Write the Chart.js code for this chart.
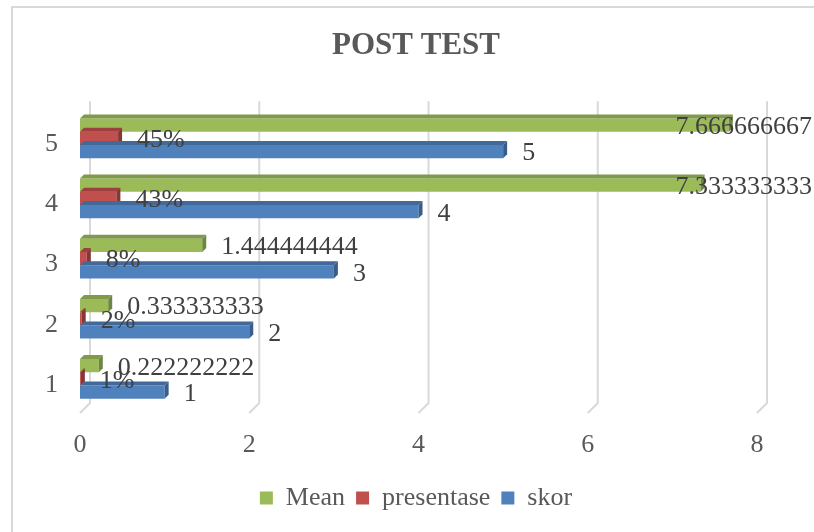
<!DOCTYPE html>
<html>
<head>
<meta charset="utf-8">
<script src="https://cdn.jsdelivr.net/npm/chart.js@4"></script>
<style>
  html, body { margin: 0; padding: 0; background: #fff; }
  #wrap { width: 814px; height: 532px; }
</style>
</head>
<body>
<div id="wrap"><canvas id="myChart" width="814" height="532"></canvas></div>
<script>
const categories = ["1", "2", "3", "4", "5"];
const meanValues = [0.222222222, 0.333333333, 1.444444444, 7.333333333, 7.666666667];
const presentaseValues = [0.01, 0.02, 0.08, 0.43, 0.45];
const skorValues = [1, 2, 3, 4, 5];
const xTicks = [0, 2, 4, 6, 8];

const SERIF = "'Liberation Serif', 'Times New Roman', serif";

// front colour, top face, side face
const shades = [
  ["#9BBB59", "#7f9a48", "#6e8740"],
  ["#C0504D", "#9c413f", "#863634"],
  ["#4F81BD", "#41699a", "#385d8a"],
];

const formatters = [
  (v) => String(v),
  (v) => Math.round(v * 100) + "%",
  (v) => String(v),
];

// outer frame of the chart
const framePlugin = {
  id: "frame",
  beforeDraw(chart) {
    const c = chart.ctx;
    c.save();
    c.fillStyle = "#fff";
    c.fillRect(0, 0, chart.width, chart.height);
    c.strokeStyle = "#d9d9d9";
    c.lineWidth = 2;
    c.strokeRect(12, 7, chart.width + 20, chart.height + 20);
    c.restore();
  },
};

// back wall grid lines with a bit of depth
const wallPlugin = {
  id: "wall",
  beforeDatasetsDraw(chart) {
    const c = chart.ctx;
    const xs = chart.scales.x;
    const area = chart.chartArea;
    c.save();
    c.strokeStyle = "#d9d9d9";
    c.lineWidth = 2;
    xTicks.forEach((t) => {
      const px = xs.getPixelForValue(t);
      c.beginPath();
      c.moveTo(px + 10, area.top - 7);
      c.lineTo(px + 10, area.bottom - 6);
      c.lineTo(px, area.bottom + 4);
      c.stroke();
    });
    c.restore();
  },
};

// 3D faces on bars and value labels
const barExtras = {
  id: "barExtras",
  afterDatasetsDraw(chart) {
    const c = chart.ctx;
    const d = 4;
    c.save();
    chart.data.datasets.forEach((ds, i) => {
      const meta = chart.getDatasetMeta(i);
      meta.data.forEach((bar) => {
        const left = bar.base, right = bar.x;
        const top = bar.y - bar.height / 2, bottom = bar.y + bar.height / 2;
        c.fillStyle = shades[i][1];
        c.beginPath();
        c.moveTo(left, top);
        c.lineTo(left + d, top - d);
        c.lineTo(right + d, top - d);
        c.lineTo(right, top);
        c.closePath();
        c.fill();
        c.fillStyle = shades[i][2];
        c.beginPath();
        c.moveTo(right, top);
        c.lineTo(right + d, top - d);
        c.lineTo(right + d, bottom - d);
        c.lineTo(right, bottom);
        c.closePath();
        c.fill();
      });
    });
    c.font = "26px " + SERIF;
    c.fillStyle = "#404040";
    c.textBaseline = "middle";
    c.textAlign = "left";
    chart.data.datasets.forEach((ds, i) => {
      const meta = chart.getDatasetMeta(i);
      meta.data.forEach((bar, j) => {
        const txt = formatters[i](ds.data[j]);
        const w = c.measureText(txt).width;
        let x = bar.x + 19;
        if (x + w > chart.width - 2) x = chart.width - 2 - w;
        c.fillText(txt, x, bar.y + 2);
      });
    });
    c.restore();
  },
};

const ctx = document.getElementById("myChart").getContext("2d");

const myChart = new Chart(ctx, {
  type: "bar",
  data: {
    labels: categories,
    datasets: [
      { label: "Mean", data: meanValues, backgroundColor: shades[0][0] },
      { label: "presentase", data: presentaseValues, backgroundColor: shades[1][0] },
      { label: "skor", data: skorValues, backgroundColor: shades[2][0] },
    ],
  },
  options: {
    indexAxis: "y",
    responsive: false,
    animation: false,
    categoryPercentage: 0.66,
    barPercentage: 1,
    layout: { padding: { left: 18, right: 0, top: 0, bottom: 11 } },
    scales: {
      x: {
        min: 0,
        max: 8,
        afterBuildTicks: (scale) => {
          scale.ticks = xTicks.map((v) => ({ value: v }));
        },
        afterFit: (scale) => {
          scale.height = 65;
        },
        ticks: { color: "#595959", font: { family: SERIF, size: 26 }, padding: 21, maxRotation: 0 },
        grid: { display: false, drawTicks: false },
        border: { display: false },
      },
      y: {
        reverse: true,
        afterFit: (scale) => {
          scale.width = 62;
        },
        ticks: { color: "#595959", font: { family: SERIF, size: 26 }, padding: 22, labelOffset: 6 },
        grid: { display: false, drawTicks: false },
        border: { display: false },
      },
      // empty right margin so the title and legend centre like the original
      yRight: {
        type: "category",
        position: "right",
        afterFit: (scale) => {
          scale.width = 57;
        },
        ticks: { display: false },
        grid: { display: false, drawTicks: false },
        border: { display: false },
      },
    },
    plugins: {
      title: {
        display: true,
        text: "POST TEST",
        color: "#595959",
        font: { family: SERIF, size: 31, weight: "bold" },
        padding: { top: 27, bottom: 44 },
      },
      legend: {
        position: "bottom",
        labels: {
          color: "#595959",
          font: { family: SERIF, size: 26 },
          boxWidth: 13,
          boxHeight: 13,
          padding: 11,
        },
      },
      tooltip: { enabled: false },
    },
  },
  plugins: [framePlugin, wallPlugin, barExtras],
});
</script>
</body>
</html>
